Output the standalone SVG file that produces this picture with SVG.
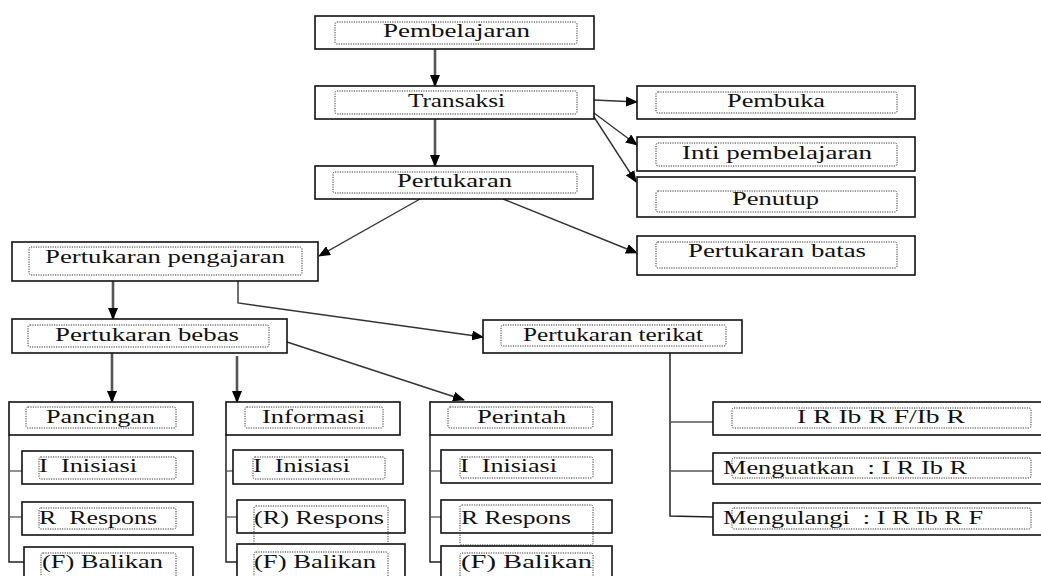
<svg xmlns="http://www.w3.org/2000/svg" width="1041" height="576" viewBox="0 0 1041 576">
<defs>
<marker id="ah" markerUnits="userSpaceOnUse" markerWidth="12" markerHeight="10" viewBox="0 0 12 10" refX="11" refY="5" orient="auto">
<path d="M0,0 L12,5 L0,10 Z" fill="#000"/>
</marker>
</defs>
<style>
.box{fill:#fff;stroke:#111;stroke-width:1.6}
.in{fill:none;stroke:#333;stroke-width:1;stroke-dasharray:1.2 1.2}
.t{font-family:"Liberation Serif","Times New Roman",serif;font-size:18px;fill:#111;white-space:pre}
.v{fill:none;stroke:#555;stroke-width:2.6}
.d{fill:none;stroke:#333;stroke-width:1.4}
.tr{fill:none;stroke:#222;stroke-width:1.5}
.tk{fill:none;stroke:#555;stroke-width:1.3}
</style>
<rect width="1041" height="576" fill="#fff"/>

<g id="connectors">
<line class="v" x1="435" y1="49" x2="435" y2="86" marker-end="url(#ah)"/>
<line class="v" x1="435" y1="119" x2="435" y2="166" marker-end="url(#ah)"/>
<line class="d" x1="594" y1="100" x2="637" y2="102" marker-end="url(#ah)"/>
<line class="d" x1="594" y1="113" x2="637" y2="145" marker-end="url(#ah)"/>
<line class="d" x1="594" y1="117" x2="636" y2="182" marker-end="url(#ah)"/>
<line class="d" x1="420" y1="199" x2="319" y2="256" marker-end="url(#ah)"/>
<line class="d" x1="503" y1="199" x2="637" y2="253" marker-end="url(#ah)"/>
<line class="v" x1="113" y1="281" x2="113" y2="319" marker-end="url(#ah)"/>
<polyline class="d" points="238,281 238,303 483,337" marker-end="url(#ah)"/>
<line class="v" x1="112" y1="353" x2="112" y2="402" marker-end="url(#ah)"/>
<line class="v" x1="237" y1="356" x2="237" y2="402" marker-end="url(#ah)"/>
<line class="d" x1="287" y1="342" x2="464" y2="400" marker-end="url(#ah)"/>
<polyline class="tr" points="9,435 9,562 24,562"/>
<line class="tk" x1="9" y1="471" x2="22" y2="471"/>
<line class="tk" x1="9" y1="517" x2="22" y2="517"/>
<polyline class="tr" points="226,435 226,562 237,562"/>
<line class="tk" x1="226" y1="471" x2="233" y2="471"/>
<line class="tk" x1="226" y1="517" x2="237" y2="517"/>
<polyline class="tr" points="430,435 430,562 441,562"/>
<line class="tk" x1="430" y1="471" x2="441" y2="471"/>
<line class="tk" x1="430" y1="517" x2="441" y2="517"/>
<polyline class="tr" points="670,353 670,516 713,517"/>
<line class="tk" x1="670" y1="422" x2="713" y2="422"/>
<line class="tk" x1="670" y1="471" x2="713" y2="471"/>
</g>

<g id="n-pembelajaran">
<rect class="box" x="315" y="16" width="279" height="33"/>
<rect class="in" x="335" y="22" width="242" height="22" rx="2"/>
<text class="t" x="383" y="37" textLength="147" lengthAdjust="spacingAndGlyphs">Pembelajaran</text>
</g>
<g id="n-transaksi">
<rect class="box" x="315" y="86" width="279" height="33"/>
<rect class="in" x="335" y="91" width="242" height="23" rx="2"/>
<text class="t" x="408" y="107" textLength="97" lengthAdjust="spacingAndGlyphs">Transaksi</text>
</g>
<g id="n-pertukaran">
<rect class="box" x="315" y="166" width="278" height="33"/>
<rect class="in" x="333" y="172" width="244" height="21" rx="2"/>
<text class="t" x="397" y="187" textLength="115" lengthAdjust="spacingAndGlyphs">Pertukaran</text>
</g>
<g id="n-pembuka">
<rect class="box" x="637" y="86" width="278" height="33"/>
<rect class="in" x="656" y="92" width="241" height="21" rx="2"/>
<text class="t" x="727" y="107" textLength="98" lengthAdjust="spacingAndGlyphs">Pembuka</text>
</g>
<g id="n-inti">
<rect class="box" x="637" y="137" width="278" height="34"/>
<rect class="in" x="656" y="143" width="241" height="23" rx="2"/>
<text class="t" x="682" y="159" textLength="190" lengthAdjust="spacingAndGlyphs">Inti pembelajaran</text>
</g>
<g id="n-penutup">
<rect class="box" x="637" y="177" width="278" height="40"/>
<rect class="in" x="656" y="191" width="241" height="21" rx="2"/>
<text class="t" x="732" y="205" textLength="87" lengthAdjust="spacingAndGlyphs">Penutup</text>
</g>
<g id="n-batas">
<rect class="box" x="637" y="236" width="278" height="39"/>
<rect class="in" x="656" y="242" width="241" height="26" rx="2"/>
<text class="t" x="688" y="257" textLength="178" lengthAdjust="spacingAndGlyphs">Pertukaran batas</text>
</g>
<g id="n-pengajaran">
<rect class="box" x="12" y="242" width="306" height="39"/>
<rect class="in" x="29" y="247" width="273" height="28" rx="2"/>
<text class="t" x="45" y="263" textLength="240" lengthAdjust="spacingAndGlyphs">Pertukaran pengajaran</text>
</g>
<g id="n-bebas">
<rect class="box" x="12" y="319" width="275" height="34"/>
<rect class="in" x="28" y="325" width="241" height="22" rx="2"/>
<text class="t" x="55" y="341" textLength="184" lengthAdjust="spacingAndGlyphs">Pertukaran bebas</text>
</g>
<g id="n-terikat">
<rect class="box" x="483" y="320" width="259" height="33"/>
<rect class="in" x="501" y="325" width="225" height="21" rx="2"/>
<text class="t" x="523" y="341" textLength="180" lengthAdjust="spacingAndGlyphs">Pertukaran terikat</text>
</g>

<g id="n-pancingan">
<rect class="box" x="9" y="402" width="184" height="33"/>
<rect class="in" x="26" y="407" width="150" height="21" rx="2"/>
<text class="t" x="46" y="423" textLength="109" lengthAdjust="spacingAndGlyphs">Pancingan</text>
</g>
<g id="n-inisiasi-1">
<rect class="box" x="22" y="451" width="171" height="33"/>
<rect class="in" x="39" y="457" width="137" height="22" rx="2"/>
<text class="t" x="39" y="472" textLength="98" lengthAdjust="spacingAndGlyphs">I  Inisiasi</text>
</g>
<g id="n-respons-1">
<rect class="box" x="22" y="502" width="171" height="33"/>
<rect class="in" x="39" y="508" width="137" height="21" rx="2"/>
<text class="t" x="39" y="524" textLength="118" lengthAdjust="spacingAndGlyphs">R  Respons</text>
</g>
<g id="n-balikan-1">
<rect class="box" x="24" y="547" width="169" height="45"/>
<rect class="in" x="41" y="553" width="135" height="30" rx="2"/>
<text class="t" x="42" y="568" textLength="121" lengthAdjust="spacingAndGlyphs">(F) Balikan</text>
</g>

<g id="n-informasi">
<rect class="box" x="226" y="402" width="174" height="33"/>
<rect class="in" x="245" y="407" width="138" height="21" rx="2"/>
<text class="t" x="262" y="423" textLength="103" lengthAdjust="spacingAndGlyphs">Informasi</text>
</g>
<g id="n-inisiasi-2">
<rect class="box" x="233" y="450" width="170" height="34"/>
<rect class="in" x="253" y="457" width="132" height="22" rx="2"/>
<text class="t" x="253" y="472" textLength="97" lengthAdjust="spacingAndGlyphs">I  Inisiasi</text>
</g>
<g id="n-respons-2">
<rect class="box" x="237" y="500" width="168" height="33"/>
<rect class="in" x="254" y="506" width="134" height="39" rx="2"/>
<text class="t" x="254" y="524" textLength="130" lengthAdjust="spacingAndGlyphs">(R) Respons</text>
</g>
<g id="n-balikan-2">
<rect class="box" x="237" y="544" width="168" height="48"/>
<rect class="in" x="254" y="552" width="134" height="30" rx="2"/>
<text class="t" x="254" y="568" textLength="122" lengthAdjust="spacingAndGlyphs">(F) Balikan</text>
</g>

<g id="n-perintah">
<rect class="box" x="430" y="402" width="182" height="33"/>
<rect class="in" x="448" y="407" width="145" height="21" rx="2"/>
<text class="t" x="477" y="423" textLength="89" lengthAdjust="spacingAndGlyphs">Perintah</text>
</g>
<g id="n-inisiasi-3">
<rect class="box" x="441" y="450" width="171" height="33"/>
<rect class="in" x="460" y="457" width="133" height="21" rx="2"/>
<text class="t" x="460" y="472" textLength="97" lengthAdjust="spacingAndGlyphs">I  Inisiasi</text>
</g>
<g id="n-respons-3">
<rect class="box" x="441" y="500" width="171" height="33"/>
<rect class="in" x="460" y="505" width="133" height="40" rx="2"/>
<text class="t" x="461" y="524" textLength="110" lengthAdjust="spacingAndGlyphs">R Respons</text>
</g>
<g id="n-balikan-3">
<rect class="box" x="441" y="546" width="171" height="46"/>
<rect class="in" x="460" y="553" width="133" height="30" rx="2"/>
<text class="t" x="461" y="568" textLength="131" lengthAdjust="spacingAndGlyphs">(F) Balikan</text>
</g>

<g id="n-irib">
<rect class="box" x="713" y="402" width="340" height="33"/>
<rect class="in" x="732" y="408" width="299" height="20" rx="2"/>
<text class="t" x="797" y="423" textLength="168" lengthAdjust="spacingAndGlyphs">I R Ib R F/Ib R</text>
</g>
<g id="n-menguatkan">
<rect class="box" x="713" y="453" width="340" height="31"/>
<rect class="in" x="732" y="458" width="299" height="20" rx="2"/>
<text class="t" x="723" y="474" textLength="244" lengthAdjust="spacingAndGlyphs">Menguatkan  : I R Ib R</text>
</g>
<g id="n-mengulangi">
<rect class="box" x="713" y="503" width="340" height="32"/>
<rect class="in" x="732" y="508" width="299" height="21" rx="2"/>
<text class="t" x="723" y="524" textLength="260" lengthAdjust="spacingAndGlyphs">Mengulangi  : I R Ib R F</text>
</g>
</svg>
